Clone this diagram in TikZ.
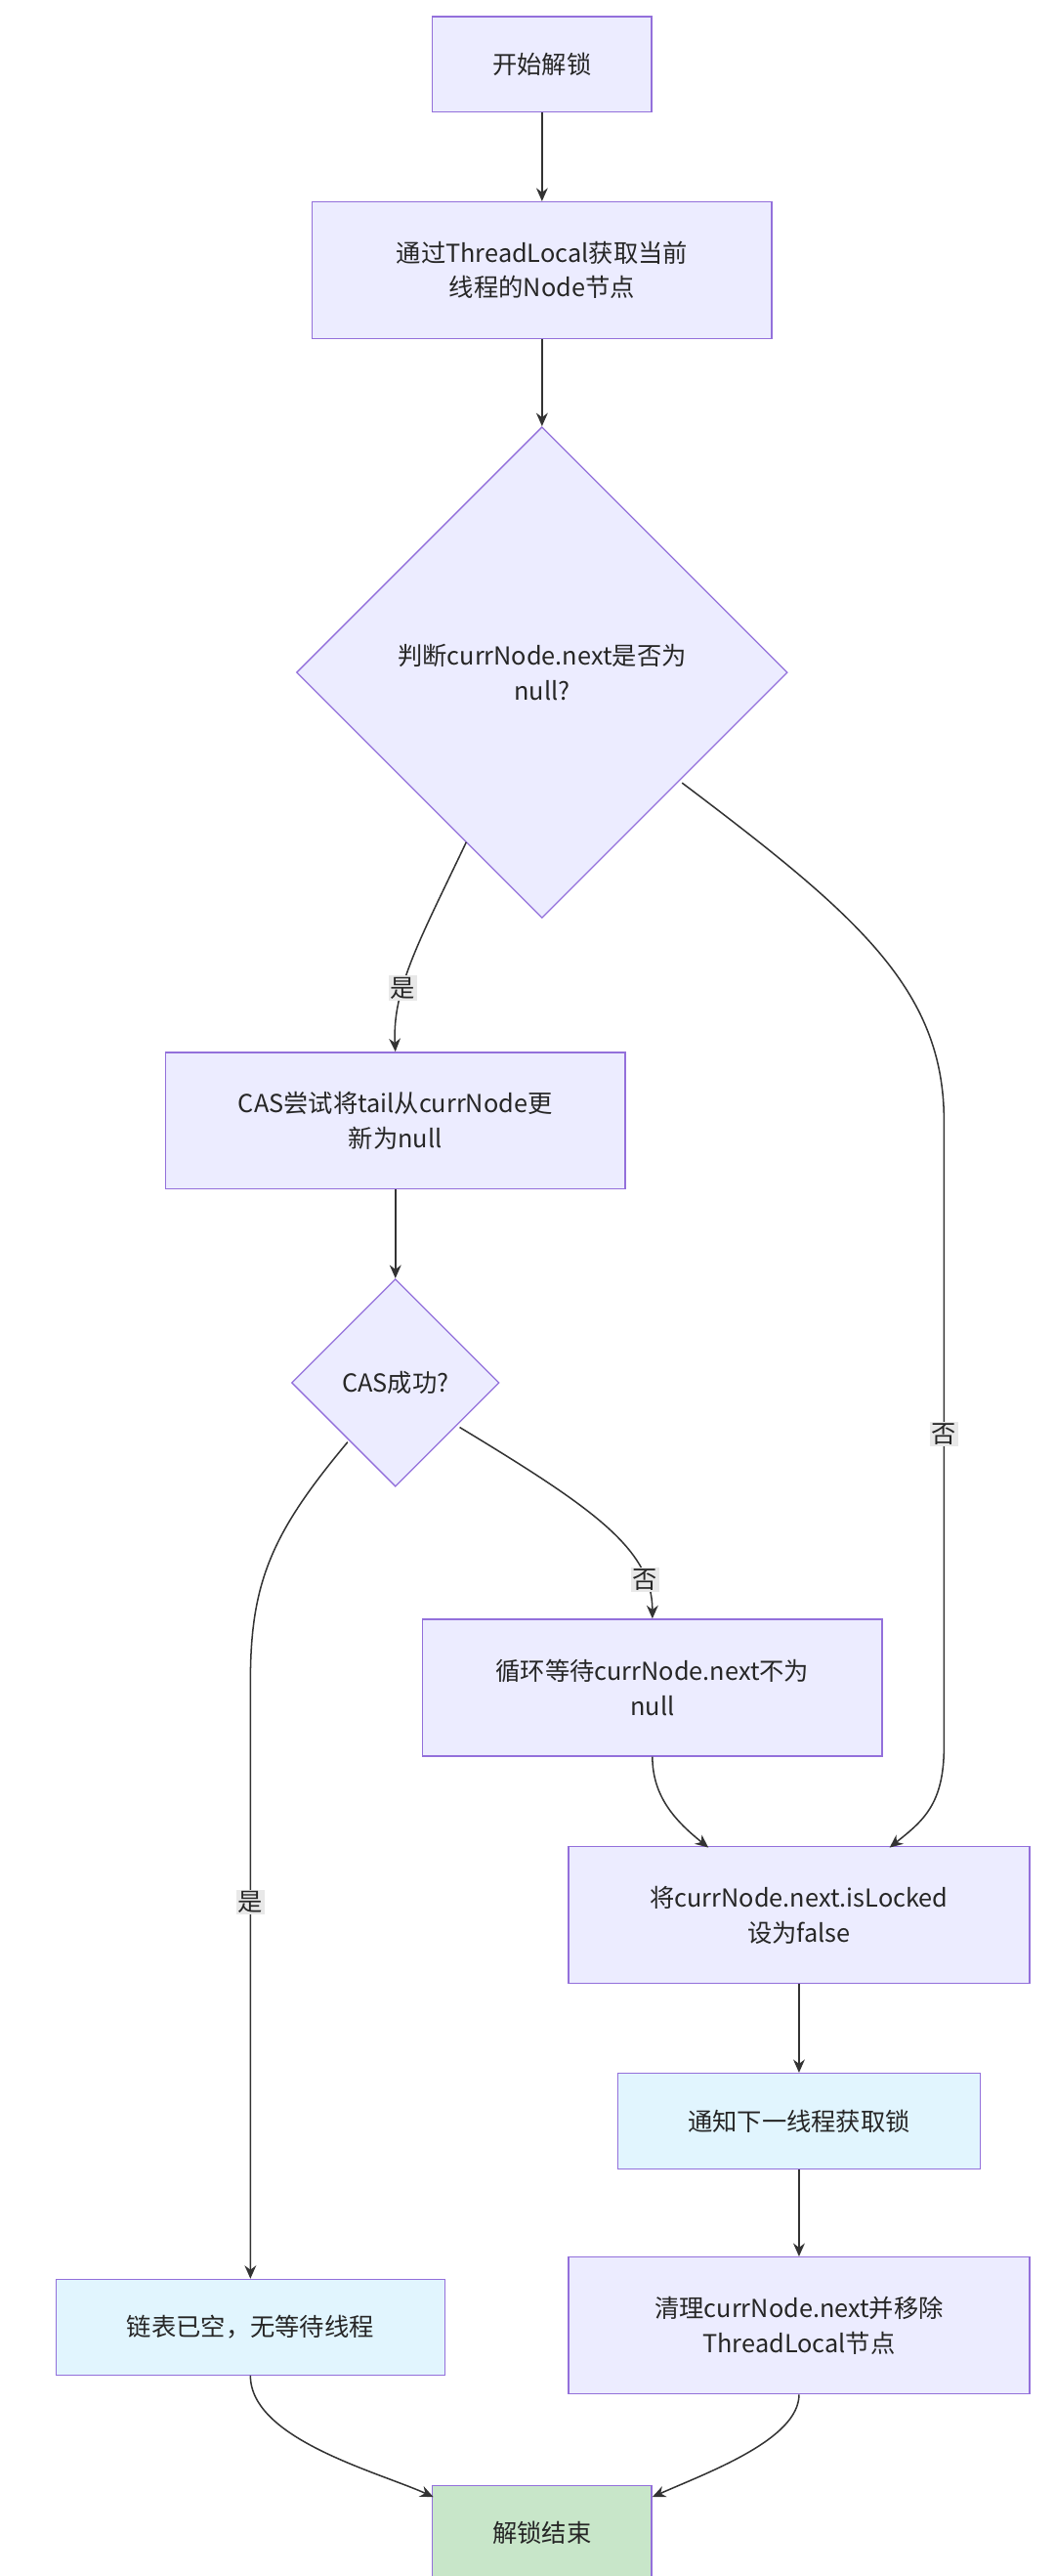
\documentclass[tikz,border=0pt]{standalone}
\usepackage{fontspec}
\setmainfont{Noto Sans CJK SC}
\usetikzlibrary{shapes.geometric,arrows.meta}
\definecolor{nfill}{HTML}{ECECFF}
\definecolor{nline}{HTML}{9370DB}
\definecolor{cfill}{HTML}{E1F5FE}
\definecolor{gfill}{HTML}{C8E6C9}
\definecolor{lbl}{HTML}{E8E8E8}
\begin{document}
\begin{tikzpicture}[x=1pt,y=-1pt,
 base/.style={draw=nline,line width=0.8pt,fill=nfill,font=\fontsize{15}{21}\selectfont,text=black!85,align=center,inner sep=0pt},
 box/.style={base,rectangle,minimum width=#1,minimum height=83},
 sbox/.style={base,rectangle,minimum width=#1,minimum height=58},
 dia/.style={base,diamond,minimum width=#1,minimum height=#1,aspect=1},
 lab/.style={fill=lbl,font=\fontsize{15}{18}\selectfont,inner sep=1pt,text=black!85},
 e/.style={draw=black!80,line width=0.9pt,-{Stealth[length=8pt,width=7pt]}}]
\useasboundingbox (0,0) rectangle (640,1563);
\node[sbox=133] (s) at (329,39) {开始解锁};
\node[box=279] (t) at (329,164) {通过ThreadLocal获取当前\\线程的Node节点};
\node[dia=298] (d1) at (329,408) {判断currNode.next是否为\\null?};
\node[box=279] (c) at (240,680) {CAS尝试将tail从currNode更\\新为null};
\node[dia=126] (d2) at (240,839) {CAS成功?};
\node[box=279] (w) at (396,1024) {循环等待currNode.next不为\\null};
\node[box=280] (u) at (485,1162) {将currNode.next.isLocked\\设为false};
\node[sbox=220,fill=cfill] (n) at (485,1287) {通知下一线程获取锁};
\node[box=280] (cl) at (485,1411) {清理currNode.next并移除\\ThreadLocal节点};
\node[sbox=236,fill=cfill] (l) at (152,1412) {链表已空，无等待线程};
\node[sbox=133,fill=gfill] (f) at (329,1537) {解锁结束};
\coordinate (a1) at (283,511);
\coordinate (a2) at (414,475);
\coordinate (a3) at (211,875);
\coordinate (a4) at (279,866);
\draw[e] (s) -- (t);
\draw[e] (t.south) .. controls (329,230) and (329,240) .. (d1.north);
\draw[e] (a1) .. controls (255,570) and (238,600) .. node[lab,pos=0.65]{是} (c.north);
\draw[e] (a2) .. controls (520,555) and (573,600) .. (573,680) -- node[lab]{否} (573,1060) .. controls (573,1095) and (560,1105) .. (540,1121);
\draw[e] (c) -- (d2);
\draw[e] (a3) .. controls (165,930) and (152,960) .. (152,1020) -- node[lab,pos=0.37]{是} (l.north);
\draw[e] (a4) .. controls (360,915) and (396,940) .. node[lab,pos=0.8]{否} (w.north);
\draw[e] (w.south) .. controls (396,1090) and (410,1105) .. (430,1121);
\draw[e] (u) -- (n);
\draw[e] (n) -- (cl);
\draw[e] (l.south) .. controls (152,1480) and (230,1500) .. (263,1515);
\draw[e] (cl.south) .. controls (485,1480) and (430,1500) .. (396,1515);
\end{tikzpicture}
\end{document}
